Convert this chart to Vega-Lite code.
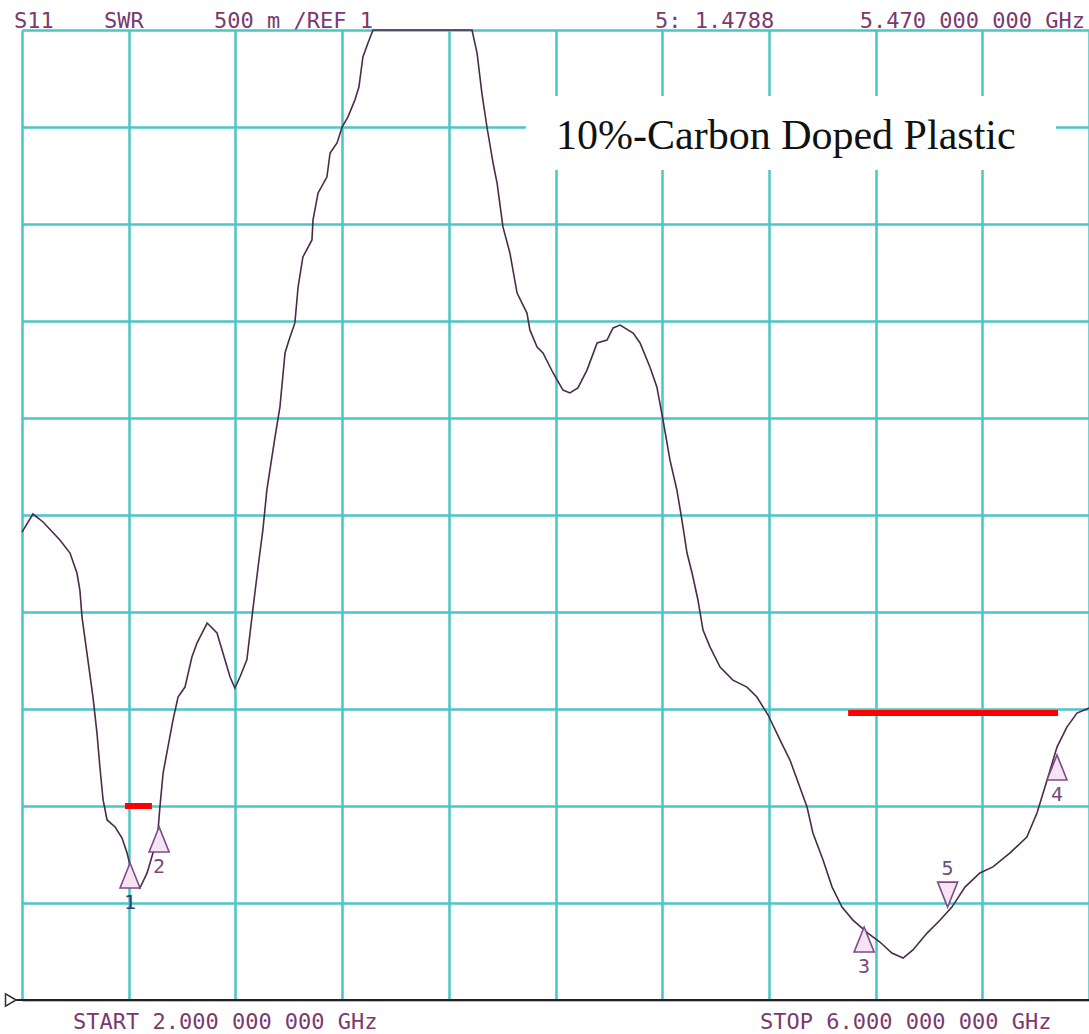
{
  "$schema": "https://vega.github.io/schema/vega-lite/v6.json",
  "width": 1067,
  "height": 970,
  "autosize": {"type": "none"},
  "padding": {"left": 22, "top": 30, "right": 0, "bottom": 34},
  "background": "white",
  "config": {"view": {"stroke": null}},
  "datasets": {
    "trace": [
      {"f":2.000,"s":3.412},{"f":2.041,"s":3.505},{"f":2.079,"s":3.464},{"f":2.142,"s":3.371},{"f":2.180,"s":3.304},
      {"f":2.206,"s":3.201},{"f":2.217,"s":3.113},{"f":2.225,"s":2.974},{"f":2.247,"s":2.753},{"f":2.266,"s":2.562},
      {"f":2.281,"s":2.376},{"f":2.292,"s":2.201},{"f":2.304,"s":2.031},{"f":2.319,"s":1.928},{"f":2.349,"s":1.892},
      {"f":2.375,"s":1.835},{"f":2.394,"s":1.758},{"f":2.412,"s":1.655},{"f":2.442,"s":1.577},{"f":2.469,"s":1.655},
      {"f":2.491,"s":1.758},{"f":2.510,"s":1.876},{"f":2.517,"s":1.995},{"f":2.529,"s":2.170},{"f":2.547,"s":2.304},
      {"f":2.566,"s":2.443},{"f":2.585,"s":2.562},{"f":2.611,"s":2.613},{"f":2.637,"s":2.768},{"f":2.656,"s":2.840},
      {"f":2.694,"s":2.943},{"f":2.731,"s":2.892},{"f":2.750,"s":2.804},{"f":2.780,"s":2.665},{"f":2.798,"s":2.608},
      {"f":2.817,"s":2.665},{"f":2.843,"s":2.753},{"f":2.855,"s":2.892},{"f":2.873,"s":3.098},{"f":2.885,"s":3.232},
      {"f":2.903,"s":3.423},{"f":2.918,"s":3.629},{"f":2.948,"s":3.897},{"f":2.967,"s":4.057},{"f":2.986,"s":4.335},
      {"f":3.001,"s":4.402},{"f":3.023,"s":4.490},{"f":3.035,"s":4.675},{"f":3.053,"s":4.830},{"f":3.087,"s":4.918},
      {"f":3.091,"s":5.021},{"f":3.110,"s":5.160},{"f":3.143,"s":5.242},{"f":3.155,"s":5.366},{"f":3.181,"s":5.418},
      {"f":3.200,"s":5.500},{"f":3.222,"s":5.552},{"f":3.248,"s":5.639},{"f":3.263,"s":5.706},{"f":3.278,"s":5.861},
      {"f":3.297,"s":5.933},{"f":3.316,"s":6.000},{"f":3.687,"s":6.000},{"f":3.706,"s":5.881},{"f":3.724,"s":5.675},
      {"f":3.743,"s":5.500},{"f":3.766,"s":5.314},{"f":3.781,"s":5.211},{"f":3.803,"s":4.985},{"f":3.829,"s":4.851},
      {"f":3.856,"s":4.644},{"f":3.893,"s":4.541},{"f":3.904,"s":4.454},{"f":3.931,"s":4.366},{"f":3.953,"s":4.335},
      {"f":3.991,"s":4.232},{"f":4.028,"s":4.144},{"f":4.054,"s":4.129},{"f":4.084,"s":4.155},{"f":4.118,"s":4.247},
      {"f":4.156,"s":4.387},{"f":4.193,"s":4.402},{"f":4.216,"s":4.464},{"f":4.242,"s":4.479},{"f":4.291,"s":4.438},
      {"f":4.317,"s":4.387},{"f":4.354,"s":4.263},{"f":4.380,"s":4.160},{"f":4.403,"s":3.990},{"f":4.429,"s":3.784},
      {"f":4.455,"s":3.629},{"f":4.474,"s":3.474},{"f":4.493,"s":3.304},{"f":4.512,"s":3.201},{"f":4.534,"s":3.062},
      {"f":4.553,"s":2.907},{"f":4.579,"s":2.820},{"f":4.617,"s":2.716},{"f":4.665,"s":2.649},{"f":4.718,"s":2.613},
      {"f":4.755,"s":2.562},{"f":4.797,"s":2.469},{"f":4.842,"s":2.340},{"f":4.879,"s":2.237},{"f":4.943,"s":1.995},
      {"f":4.965,"s":1.861},{"f":5.003,"s":1.722},{"f":5.037,"s":1.582},{"f":5.074,"s":1.479},{"f":5.115,"s":1.412},
      {"f":5.171,"s":1.345},{"f":5.216,"s":1.299},{"f":5.261,"s":1.242},{"f":5.303,"s":1.216},{"f":5.340,"s":1.258},
      {"f":5.393,"s":1.345},{"f":5.442,"s":1.412},{"f":5.486,"s":1.479},{"f":5.535,"s":1.582},{"f":5.591,"s":1.655},
      {"f":5.640,"s":1.686},{"f":5.704,"s":1.758},{"f":5.767,"s":1.840},{"f":5.805,"s":1.964},{"f":5.843,"s":2.134},
      {"f":5.880,"s":2.304},{"f":5.917,"s":2.407},{"f":5.955,"s":2.479},{"f":6.000,"s":2.505}
    ],
    "markers": [
      {"id":"1","f":2.405,"s":1.706,"dir":"up"},
      {"id":"2","f":2.514,"s":1.892,"dir":"up"},
      {"id":"3","f":5.157,"s":1.376,"dir":"up"},
      {"id":"4","f":5.880,"s":2.263,"dir":"up"},
      {"id":"5","f":5.470,"s":1.4788,"dir":"down"}
    ],
    "redbars": [
      {"f":2.386,"f2":2.487,"s":2.0},
      {"f":5.097,"f2":5.884,"s":2.48}
    ],
    "box": [{"f":3.889,"f2":5.876,"s":5.660,"s2":5.278}],
    "note": [{"t":"10%-Carbon Doped Plastic","f":4.002,"s":5.387}],
    "header": [
      {"t":"S11","f":1.970,"s":6.010},
      {"t":"SWR","f":2.307,"s":6.010},
      {"t":"500 m /REF 1","f":2.720,"s":6.010},
      {"t":"5: 1.4788","f":4.373,"s":6.010},
      {"t":"5.470 000 000 GHz","f":5.141,"s":6.010},
      {"t":"START 2.000 000 000 GHz","f":2.191,"s":0.8505},
      {"t":"STOP 6.000 000 000 GHz","f":4.767,"s":0.8505}
    ],
    "baseline": [{"f":1.974,"f2":6.0,"s":1.0}],
    "ref": [{"f":1.958,"s":1.0}]
  },
  "layer": [
    {
      "data": {"name": "trace"},
      "mark": {"type": "line", "color": "#4b2a4b", "strokeWidth": 1.6},
      "encoding": {
        "x": {"field": "f", "type": "quantitative",
              "scale": {"domain": [2, 6], "nice": false, "zero": false},
              "axis": {"values": [2,2.4,2.8,3.2,3.6,4,4.4,4.8,5.2,5.6,6], "grid": true, "gridColor": "#4cc5c5", "gridWidth": 2.5, "gridOpacity": 1,
                       "labels": false, "ticks": false, "domain": false, "title": null}},
        "y": {"field": "s", "type": "quantitative",
              "scale": {"domain": [1, 6], "nice": false, "zero": false},
              "axis": {"values": [1,1.5,2,2.5,3,3.5,4,4.5,5,5.5,6], "grid": true, "gridColor": "#4cc5c5", "gridWidth": 2.5, "gridOpacity": 1,
                       "labels": false, "ticks": false, "domain": false, "title": null}}
      }
    },
    {
      "data": {"name": "baseline"},
      "mark": {"type": "rule", "color": "#222222", "strokeWidth": 2},
      "encoding": {
        "x": {"field": "f", "type": "quantitative"},
        "x2": {"field": "f2"},
        "y": {"field": "s", "type": "quantitative"}
      }
    },
    {
      "data": {"name": "ref"},
      "mark": {"type": "point", "shape": "triangle-right", "size": 150, "filled": false, "stroke": "#333333", "strokeWidth": 1.5, "opacity": 1},
      "encoding": {
        "x": {"field": "f", "type": "quantitative"},
        "y": {"field": "s", "type": "quantitative"}
      }
    },
    {
      "data": {"name": "box"},
      "mark": {"type": "rect", "fill": "white"},
      "encoding": {
        "x": {"field": "f", "type": "quantitative"},
        "x2": {"field": "f2"},
        "y": {"field": "s", "type": "quantitative"},
        "y2": {"field": "s2"}
      }
    },
    {
      "data": {"name": "note"},
      "mark": {"type": "text", "font": "Liberation Serif", "fontSize": 42, "align": "left", "baseline": "alphabetic", "color": "#111111"},
      "encoding": {
        "x": {"field": "f", "type": "quantitative"},
        "y": {"field": "s", "type": "quantitative"},
        "text": {"field": "t"}
      }
    },
    {
      "data": {"name": "redbars"},
      "mark": {"type": "rule", "color": "#ff0000", "strokeWidth": 6},
      "encoding": {
        "x": {"field": "f", "type": "quantitative"},
        "x2": {"field": "f2"},
        "y": {"field": "s", "type": "quantitative"}
      }
    },
    {
      "data": {"name": "markers"},
      "transform": [{"filter": "datum.dir == 'up'"}],
      "mark": {"type": "point", "shape": "M0,-1L-0.8,1L0.8,1Z", "size": 625, "yOffset": 12.5, "filled": true, "fill": "#f6e4f4", "stroke": "#7e4a86", "strokeWidth": 1.6, "opacity": 1},
      "encoding": {
        "x": {"field": "f", "type": "quantitative"},
        "y": {"field": "s", "type": "quantitative"}
      }
    },
    {
      "data": {"name": "markers"},
      "transform": [{"filter": "datum.dir == 'down'"}],
      "mark": {"type": "point", "shape": "M0,1L-0.8,-1L0.8,-1Z", "size": 625, "yOffset": -12.5, "filled": true, "fill": "#f6e4f4", "stroke": "#7e4a86", "strokeWidth": 1.6, "opacity": 1},
      "encoding": {
        "x": {"field": "f", "type": "quantitative"},
        "y": {"field": "s", "type": "quantitative"}
      }
    },
    {
      "data": {"name": "markers"},
      "transform": [{"filter": "datum.dir == 'up'"}],
      "mark": {"type": "text", "font": "DejaVu Sans Mono", "fontSize": 20, "dy": 40, "baseline": "middle", "align": "center"},
      "encoding": {
        "x": {"field": "f", "type": "quantitative"},
        "y": {"field": "s", "type": "quantitative"},
        "text": {"field": "id"},
        "color": {"condition": {"test": "datum.id == '1'", "value": "#2e3f6e"}, "value": "#7a4a7e"}
      }
    },
    {
      "data": {"name": "markers"},
      "transform": [{"filter": "datum.dir == 'down'"}],
      "mark": {"type": "text", "font": "DejaVu Sans Mono", "fontSize": 20, "dy": -38, "baseline": "middle", "align": "center", "color": "#7a4a7e"},
      "encoding": {
        "x": {"field": "f", "type": "quantitative"},
        "y": {"field": "s", "type": "quantitative"},
        "text": {"field": "id"}
      }
    },
    {
      "data": {"name": "header"},
      "mark": {"type": "text", "font": "DejaVu Sans Mono", "fontSize": 22, "align": "left", "baseline": "alphabetic", "color": "#7a3a70"},
      "encoding": {
        "x": {"field": "f", "type": "quantitative"},
        "y": {"field": "s", "type": "quantitative"},
        "text": {"field": "t"}
      }
    }
  ]
}
